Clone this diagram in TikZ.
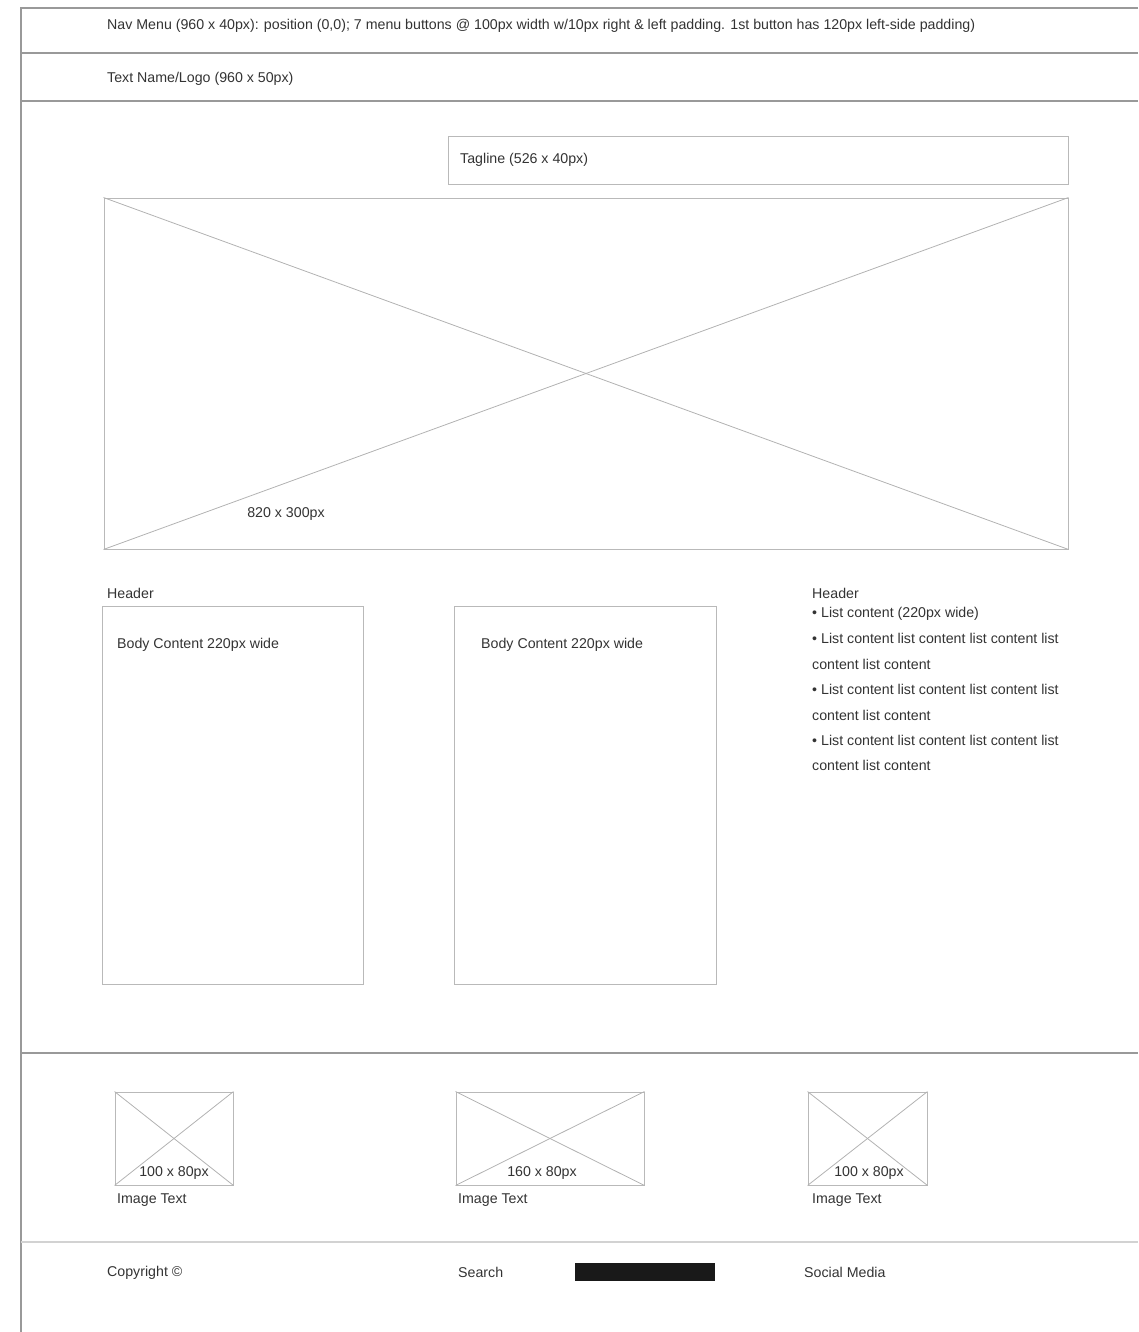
\documentclass[tikz,border=0pt]{standalone}
\usepackage{fontspec}
\setmainfont{Liberation Sans}
\usetikzlibrary{positioning}
\usetikzlibrary{fit}

\tikzset{
  frameline/.style={draw=gray!80, line width=1.2pt},
  lightline/.style={draw=gray!35, line width=1.2pt},
  boxline/.style={draw=gray!55, line width=0.9pt},
  crossline/.style={draw=gray!60, line width=0.8pt},
  wtxt/.style={anchor=west, inner sep=0pt, yshift=-1.5pt, font=\fontsize{14.2}{16}\selectfont, text=black!80},
  ctxt/.style={inner sep=0pt, yshift=-1.5pt, font=\fontsize{14.2}{16}\selectfont, text=black!80},
}

\begin{document}
\begin{tikzpicture}[x=1pt, y=-1pt]
\useasboundingbox (0,0) rectangle (1138,1332);
% page frame
\coordinate (ftl) at (21,8);
\coordinate (ftr) at (1138,8);
\coordinate (fbl) at (21,1332);
\draw[frameline] (ftr) -- (ftl) -- (fbl);
\draw[frameline] (21,53) -- (1138,53);
\draw[frameline] (21,101) -- (1138,101);
\draw[frameline] (21,1053) -- (1138,1053);
\draw[lightline] (21,1242) -- (1138,1242);

\node[wtxt] (nav) at (107,24) {Nav Menu (960 x 40px): position (0,0); 7 menu buttons @ 100px width w/10px right \& left padding. 1st button has 120px left-side padding)};
\node[wtxt] (logo) at (107,77) {Text Name/Logo (960 x 50px)};

% tagline and hero image
\node[boxline, fit={(448,136) (1068,184)}, inner sep=0pt] (tag) {};
\node[wtxt] (tagtxt) at (460,158) {Tagline (526 x 40px)};
\node[boxline, fit={(104,198) (1068,549)}, inner sep=0pt] (hero) {};
\draw[crossline] (hero.north west) -- (hero.south east);
\draw[crossline] (hero.south west) -- (hero.north east);
\node[ctxt] (herotxt) at (286,513) {820 x 300px};

% body columns
\node[wtxt] (headA) at (107,592) {Header};
\node[boxline, fit={(102,606) (363,984)}, inner sep=0pt] (bodyA) {};
\node[wtxt] (bodyAtxt) at (117,643) {Body Content 220px wide};
\node[boxline, fit={(454,606) (716,984)}, inner sep=0pt] (bodyB) {};
\node[wtxt] (bodyBtxt) at (481,643) {Body Content 220px wide};

\node[wtxt] (headC) at (812,592) {Header};
\foreach \ly/\lt in {612/{• List content (220px wide)},
                     637/{• List content list content list content list},
                     663/{content list content},
                     688/{• List content list content list content list},
                     714/{content list content},
                     739/{• List content list content list content list},
                     764/{content list content}}
  \node[wtxt] (list\ly) at (812,\ly) {\lt};

% image strip
\node[boxline, fit={(115,1092) (233,1185)}, inner sep=0pt] (imgA) {};
\node[boxline, fit={(456,1092) (644,1185)}, inner sep=0pt] (imgB) {};
\node[boxline, fit={(808,1092) (927,1185)}, inner sep=0pt] (imgC) {};
\foreach \im in {imgA, imgB, imgC} {
  \draw[crossline] (\im.north west) -- (\im.south east);
  \draw[crossline] (\im.south west) -- (\im.north east);
}
\node[ctxt] (imgAsz) at (174,1172) {100 x 80px};
\node[ctxt] (imgBsz) at (542,1172) {160 x 80px};
\node[ctxt] (imgCsz) at (869,1172) {100 x 80px};
\node[wtxt] (imgAtxt) at (117,1199) {Image Text};
\node[wtxt] (imgBtxt) at (458,1199) {Image Text};
\node[wtxt] (imgCtxt) at (812,1199) {Image Text};

% footer
\node[wtxt] (copy) at (107,1271) {Copyright ©};
\node[wtxt] (search) at (458,1271) {Search};
\node[fill=black!90, fit={(575,1263) (715,1281)}, inner sep=0pt] (searchbox) {};
\node[wtxt] (social) at (804,1271) {Social Media};
\end{tikzpicture}
\end{document}
